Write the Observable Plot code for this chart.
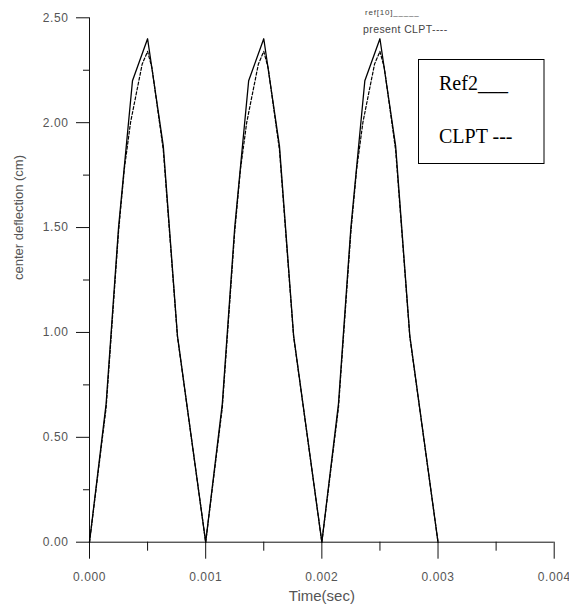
<!DOCTYPE html>
<html>
<head>
<meta charset="utf-8">
<script src="https://cdn.jsdelivr.net/npm/d3@7"></script>
<script src="https://cdn.jsdelivr.net/npm/@observablehq/plot@0.6"></script>
<style>
  html, body { margin: 0; padding: 0; background: #fff; overflow: hidden; }
  #chart svg { display: block; font-family: 'Liberation Sans', Arial, sans-serif; background: #fff; }
  #chart g[aria-label="y-axis tick label"],
  #chart g[aria-label="x-axis tick label"] { fill: #555; letter-spacing: 0.6px; }
  #chart g[aria-label="y title"] text { letter-spacing: 2.6px; }
  #chart g[aria-label="x title"] text { letter-spacing: 0.8px; }
</style>
</head>
<body>
<div id="chart"></div>
<script>
// Ref2 (solid) centre deflection over three load cycles
const ref2Time = [
  0, 0.000143, 0.00025, 0.00037, 0.0005, 0.000635, 0.000757, 0.001,
  0.001143, 0.00125, 0.00137, 0.0015, 0.001635, 0.001757, 0.002,
  0.002143, 0.00225, 0.00237, 0.0025, 0.002635, 0.002757, 0.003
];
const ref2Deflection = [
  0, 0.66, 1.5, 2.2, 2.4, 1.89, 0.985, 0,
  0.66, 1.5, 2.2, 2.4, 1.89, 0.985, 0,
  0.66, 1.5, 2.2, 2.4, 1.89, 0.985, 0
];

// present CLPT (dashed) centre deflection
const clptTime = [
  0, 0.000143, 0.00025, 0.0003, 0.000353, 0.000396, 0.000454, 0.0005, 0.000538, 0.000635, 0.000757, 0.001,
  0.001143, 0.00125, 0.0013, 0.001353, 0.001396, 0.001454, 0.0015, 0.001538, 0.001635, 0.001757, 0.002,
  0.002143, 0.00225, 0.0023, 0.002353, 0.002396, 0.002454, 0.0025, 0.002538, 0.002635, 0.002757, 0.003
];
const clptDeflection = [
  0, 0.64, 1.48, 1.78, 2.0, 2.12, 2.28, 2.34, 2.26, 1.87, 0.98, 0,
  0.64, 1.48, 1.78, 2.0, 2.12, 2.28, 2.34, 2.26, 1.87, 0.98, 0,
  0.64, 1.48, 1.78, 2.0, 2.12, 2.28, 2.34, 2.26, 1.87, 0.98, 0
];

// axis ticks
const xMajorTicks = [0, 0.001, 0.002, 0.003, 0.004];
const xMinorTicks = [0.0005, 0.0015, 0.0025, 0.0035];
const yMajorTicks = [0, 0.5, 1.0, 1.5, 2.0, 2.5];
const yMinorTicks = [0.25, 0.75, 1.25, 1.75, 2.25];

const xTitle = "Time(sec)";
const yTitle = "center deflection (cm)";
const noteLines = ["ref[10]_____", "present CLPT----"];
const legendLines = ["Ref2___", "CLPT ---"];

const ref2 = ref2Time.map((t, i) => ({t, d: ref2Deflection[i]}));
const clpt = clptTime.map((t, i) => ({t, d: clptDeflection[i]}));

// layout
const W = 569, H = 613;
const mL = 89, mR = 15.3, mT = 17.3, mB = 71.3;
const frameW = W - mL - mR, frameH = H - mT - mB;

// boxed legend and the small series note above it
function legendMark() {
  const g = d3.create("svg:g").attr("aria-label", "legend").attr("text-anchor", "start");
  g.append("rect")
    .attr("x", 418.5).attr("y", 59.5)
    .attr("width", 125.5).attr("height", 104)
    .attr("fill", "#fff").attr("stroke", "#000").attr("stroke-width", 1);
  g.selectAll("text.entry").data(legendLines).join("text")
    .attr("class", "entry")
    .attr("x", 439)
    .attr("y", (d, i) => 90 + i * 53)
    .attr("font-family", "'Liberation Serif', 'Times New Roman', serif")
    .attr("font-size", 20)
    .attr("fill", "#000")
    .text(d => d);
  g.selectAll("text.note").data(noteLines).join("text")
    .attr("class", "note")
    .attr("x", (d, i) => i ? 363 : 365)
    .attr("y", (d, i) => i ? 33 : 15)
    .attr("font-size", (d, i) => i ? 10.5 : 8)
    .attr("letter-spacing", (d, i) => i ? 0.4 : 0.8)
    .attr("fill", "#444")
    .text(d => d);
  return g.node();
}

const chart = Plot.plot({
  width: W,
  height: H,
  marginLeft: mL,
  marginRight: mR,
  marginTop: mT,
  marginBottom: mB,
  x: {domain: [0, 0.004]},
  y: {domain: [0, 2.5]},
  marks: [
    Plot.ruleY([0], {stroke: "#111"}),
    Plot.ruleX([0], {stroke: "#111"}),
    // tick strokes hanging below / left of the frame (long = labelled)
    Plot.ruleX(xMajorTicks, {x: d => d, insetTop: frameH, insetBottom: -17, stroke: "#111"}),
    Plot.ruleX(xMinorTicks, {x: d => d, insetTop: frameH, insetBottom: -9, stroke: "#111"}),
    Plot.ruleY(yMajorTicks, {y: d => d, insetLeft: -13, insetRight: frameW, stroke: "#111"}),
    Plot.ruleY(yMinorTicks, {y: d => d, insetLeft: -6, insetRight: frameW, stroke: "#111"}),
    // tick labels
    Plot.axisX({ticks: xMajorTicks, tickSize: 0, tickPadding: 30, tickFormat: d3.format(".3f"), fontSize: 12, label: null}),
    Plot.axisY({ticks: yMajorTicks, tickSize: 0, tickPadding: 21, tickFormat: d3.format(".2f"), fontSize: 12, label: null}),
    Plot.line(clpt, {x: "t", y: "d", stroke: "#000", strokeWidth: 1.2, strokeDasharray: "3,2"}),
    Plot.line(ref2, {x: "t", y: "d", stroke: "#000", strokeWidth: 1.3}),
    Plot.text([xTitle], {text: d => d, frameAnchor: "bottom", dy: 59, fontSize: 15, fill: "#555", ariaLabel: "x title"}),
    Plot.text([yTitle], {text: d => d, frameAnchor: "left", dx: -71, rotate: -90, fontSize: 13, fill: "#555", ariaLabel: "y title"}),
    legendMark
  ]
});

document.getElementById("chart").appendChild(chart);
</script>
</body>
</html>
